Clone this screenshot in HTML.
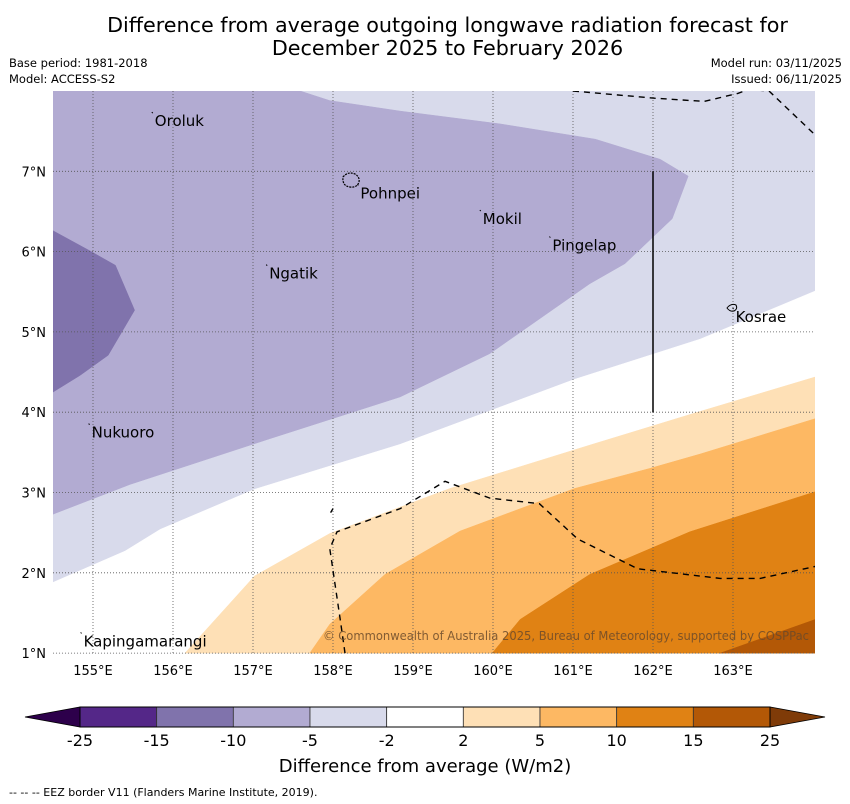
<!DOCTYPE html>
<html><head><meta charset="utf-8"><style>
body{margin:0;background:#fff;font-family:"Liberation Sans","DejaVu Sans",sans-serif;}
#wrap{position:relative;width:850px;height:804px;overflow:hidden;}
.t{position:absolute;white-space:nowrap;color:#000;}
</style></head><body>
<div id="wrap">
<div class="t" style="left:0;width:895px;text-align:center;top:14px;font-size:20.7px;line-height:23px;font-family:'DejaVu Sans',sans-serif;">Difference from average outgoing longwave radiation forecast for<br>December 2025 to February 2026</div>
<div class="t" style="left:9px;top:55px;font-size:11.5px;font-family:'DejaVu Sans',sans-serif;line-height:16px">Base period: 1981-2018<br>Model: ACCESS-S2</div>
<div class="t" style="right:8px;top:55px;font-size:11.5px;text-align:right;font-family:'DejaVu Sans',sans-serif;line-height:16px">Model run: 03/11/2025<br>Issued: 06/11/2025</div>
<svg id="map" width="850" height="804" style="position:absolute;left:0;top:0" font-family="DejaVu Sans, sans-serif"></svg>
<div class="t" style="left:9px;top:786px;font-size:11px;font-family:'DejaVu Sans',sans-serif;">--  --  -- EEZ border V11 (Flanders Marine Institute, 2019).</div>
</div>
<script>
const lonTicks=[155,156,157,158,159,160,161,162,163];
const latTicks=[1,2,3,4,5,6,7];
const cbBounds=[-25,-15,-10,-5,-2,2,5,10,15,25];
const cbColors=["#542788","#8073ac","#b2abd2","#d8daeb","#ffffff","#fee0b6","#fdb863","#e08214","#b35806"];
const lightBand=[[154.5,8],[164.03,8],[164.03,1],[154.5,1]];
const midLav=[[154.5,2.73],[155.46,3.1],[157.21,3.67],[158.84,4.19],[159.96,4.73],[161.21,5.6],[161.65,5.85],[162.24,6.41],[162.44,6.94],[162.09,7.15],[161.28,7.4],[160.09,7.59],[158.84,7.75],[157.96,7.88],[157.59,8],[154.5,8]];
const darkLav=[[154.5,6.26],[154.96,6.01],[155.28,5.83],[155.52,5.27],[155.19,4.71],[154.84,4.46],[154.5,4.25]];
const whiteBand=[[154.5,1.88],[155.4,2.27],[155.84,2.54],[157.02,3.04],[158.84,3.6],[161.02,4.41],[162.59,4.91],[164.03,5.51],[164.03,1],[154.5,1]];
const peach=[[156.15,1],[157.02,1.96],[157.96,2.49],[159.46,3.05],[161.21,3.59],[162.59,4.01],[164.03,4.44],[164.03,1]];
const orange=[[157.71,1],[157.96,1.36],[158.65,1.98],[159.59,2.52],[161.02,3.05],[161.96,3.3],[162.59,3.48],[164.03,3.92],[164.03,1]];
const darkOrange=[[159.99,1],[160.34,1.42],[161.21,1.98],[162.46,2.51],[164.03,3.01],[164.03,1]];
const brown=[[162.84,1],[164.03,1.42],[164.03,1]];
const eezTop=[[161.0,8],[162.02,7.91],[162.64,7.87],[163.06,7.97],[163.2,8.02],[163.45,8],[164.03,7.45]];
const eezBottom=[[158.15,1],[158.09,1.42],[157.96,2.3],[158.05,2.51],[158.84,2.8],[159.4,3.14],[159.96,2.93],[160.58,2.86],[161.06,2.42],[161.81,2.05],[162.84,1.93],[163.34,1.93],[164.03,2.08]];
const eezNote=[[157.97,2.75],[158.0,2.8]];
const places=["Oroluk","Pohnpei","Mokil","Pingelap","Ngatik","Kosrae","Nukuoro","Kapingamarangi"];
const placeLon=[155.76,158.33,159.86,160.73,157.19,163.02,154.97,154.87];
const placeLat=[7.7,6.8,6.48,6.15,5.8,5.26,3.82,1.22];
const X=lon=>53+(lon-154.5)*80;
const Y=lat=>91+(8-lat)*80.3;
const svg=document.getElementById('map');
const NS='http://www.w3.org/2000/svg';
function mk(tag,attrs,parent){const e=document.createElementNS(NS,tag);for(const k in attrs)e.setAttribute(k,attrs[k]);(parent||svg).appendChild(e);return e;}
const clip=mk('clipPath',{id:'mc'});mk('rect',{x:53,y:91,width:762,height:563},clip);
const g=mk('g',{'clip-path':'url(#mc)'});


const pts=a=>a.map(p=>X(p[0]).toFixed(1)+','+Y(p[1]).toFixed(1)).join(' ');
[[lightBand,"#d8daeb","band-minus5-to-minus2"],[midLav,"#b2abd2","band-minus10-to-minus5"],[darkLav,"#8073ac","band-minus15-to-minus10"],[whiteBand,"#ffffff","band-minus2-to-2"],[peach,"#fee0b6","band-2-to-5"],[orange,"#fdb863","band-5-to-10"],[darkOrange,"#e08214","band-10-to-15"],[brown,"#b35806","band-15-to-25"]].forEach(([a,c,n])=>{
 const p=mk('polygon',{points:pts(a),fill:c,stroke:c,'stroke-width':0.5},g);
 
 
});
lonTicks.forEach(l=>{const ln=mk('line',{x1:X(l),x2:X(l),y1:91,y2:654,stroke:'#555','stroke-width':0.8,'stroke-dasharray':'1,2'},g);
 
 
 const t=mk('text',{x:X(l),y:675,'font-size':13,'text-anchor':'middle'});t.textContent=l+'°E';
 
 });
latTicks.forEach(l=>{const ln=mk('line',{x1:53,x2:815,y1:Y(l),y2:Y(l),stroke:'#555','stroke-width':0.8,'stroke-dasharray':'1,2'},g);
 
 
 const t=mk('text',{x:46,y:Y(l)+5,'font-size':13,'text-anchor':'end'});t.textContent=l+'°N';
 
 });
[eezTop,eezBottom,eezNote].forEach(a=>{const e=mk('polyline',{points:pts(a),fill:'none',stroke:'#000','stroke-width':1.4,'stroke-dasharray':'6,5'},g);
 
 });
const vl=mk('line',{x1:X(162),x2:X(162),y1:Y(7),y2:Y(4),stroke:'#000','stroke-width':1.5},g);


const isl1=mk('path',{d:'M343,177 q5,-6 12,-3 q5,3 4,8 q-2,6 -9,5 q-8,-1 -7,-10z',fill:'none',stroke:'#000','stroke-width':1.2,'stroke-dasharray':'2,1'},g);


const isl2=mk('path',{d:'M727,308 q4,-5 9,-3 q2,4 -2,6 q-4,1 -7,-3z',fill:'none',stroke:'#000','stroke-width':1},g);


places.forEach((n,i)=>{const t=mk('text',{x:X(placeLon[i])+1,y:Y(placeLat[i])+11,'font-size':15},g);t.textContent=n;
 
 
 const d=mk('line',{x1:X(placeLon[i])-2,y1:Y(placeLat[i])-3,x2:X(placeLon[i])-1,y2:Y(placeLat[i])-2,stroke:'#000','stroke-width':1},g);
 
 });
const cr=mk('text',{x:323,y:640,'font-size':12,fill:'#6b4a2a','fill-opacity':0.85,textLength:486,lengthAdjust:'spacingAndGlyphs'},g);cr.textContent='© Commonwealth of Australia 2025, Bureau of Meteorology, supported by COSPPac';


const cbX=v=>80+cbBounds.indexOf(v)*(690/9);
const cb=mk('g',{});


const l1=mk('polygon',{points:'80,707 80,727 25,717',fill:'#2d004b',stroke:'#000','stroke-width':0.8},cb);


const l2=mk('polygon',{points:'770,707 770,727 825,717',fill:'#7f3b08',stroke:'#000','stroke-width':0.8},cb);


cbColors.forEach((c,i)=>{const x0=cbX(cbBounds[i]),x1=cbX(cbBounds[i+1]);
 const r=mk('rect',{x:x0,y:707,width:x1-x0,height:20,fill:c,stroke:'#333','stroke-width':0.8},cb);
 
 });
mk('rect',{x:80,y:707,width:690,height:20,fill:'none',stroke:'#000','stroke-width':1},cb);
cbBounds.forEach(v=>{const t=mk('text',{x:cbX(v),y:746,'font-size':16,'text-anchor':'middle'},cb);t.textContent=v;
 
 });
const ct=mk('text',{x:425,y:772,'font-size':18,'text-anchor':'middle'},cb);ct.textContent='Difference from average (W/m2)';


</script>
</body></html>
